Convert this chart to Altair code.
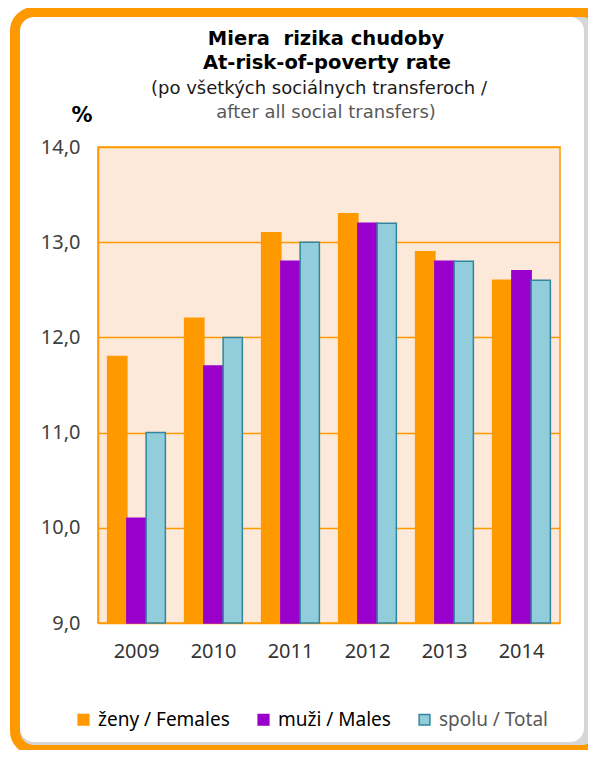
import altair as alt
import pandas as pd

years = ["2009", "2010", "2011", "2012", "2013", "2014"]
series = ["ženy / Females", "muži / Males", "spolu / Total"]
females = [11.8, 12.2, 13.1, 13.3, 12.9, 12.6]
males = [10.1, 11.7, 12.8, 13.2, 12.8, 12.7]
total = [11.0, 12.0, 13.0, 13.2, 12.8, 12.6]
y_ticks = [9, 10, 11, 12, 13, 14]

fill_colors = ["#FF9900", "#9900CC", "#92CDDC"]
stroke_colors = ["#FF9900", "#9900CC", "#31859C"]

rows = []
for i, yr in enumerate(years):
    for s, vals in zip(series, [females, males, total]):
        rows.append({"year": yr, "series": s, "value": vals[i]})
df = pd.DataFrame(rows)

W, H = 462, 476
PL, PT = 90, 139
SVG_W, SVG_H = 580, 742
FONT = "Noto Sans"
TFONT = "DejaVu Sans"
ORANGE = "#FF9900"

legend = alt.Legend(
    title=None, orient="none", direction="horizontal",
    legendX=-24, legendY=563,
    symbolType="square", symbolSize=115, symbolStrokeWidth=1.5,
    labelFont=FONT, labelFontSize=19,
    labelColor={"expr": "datum.label == 'spolu / Total' ? '#595959' : '#000000'"},
    labelOffset=5, columnPadding=24, symbolOpacity=1, labelLimit=300,
)

bars = alt.Chart(df).mark_bar(strokeWidth=1.5, opacity=1).encode(
    x=alt.X("year:N", sort=years, title=None,
            scale=alt.Scale(paddingInner=0.25, paddingOuter=0.125),
            axis=alt.Axis(labelAngle=0, ticks=False, domain=False, grid=False,
                          labelPadding=18, labelFont=FONT, labelFontSize=20,
                          labelColor="#333333")),
    xOffset=alt.XOffset("series:N", sort=series,
                        scale=alt.Scale(paddingInner=0, paddingOuter=0)),
    y=alt.Y("value:Q", title=None,
            scale=alt.Scale(domain=[y_ticks[0], y_ticks[-1]], zero=False, nice=False),
            axis=alt.Axis(values=y_ticks, ticks=False, domain=True,
                          domainColor=ORANGE, domainWidth=1.5,
                          grid=True, gridColor=ORANGE, gridWidth=1.5,
                          labelPadding=18, labelFont=FONT, labelFontSize=20,
                          labelColor="#404040",
                          labelExpr="replace(format(datum.value, '.1f'), '.', ',')")),
    y2=alt.datum(y_ticks[0]),
    fill=alt.Fill("series:N", sort=series,
                  scale=alt.Scale(domain=series, range=fill_colors), legend=legend),
    stroke=alt.Stroke("series:N", sort=series,
                      scale=alt.Scale(domain=series, range=stroke_colors), legend=legend),
)

one = alt.Data(values=[{"k": 1}])

# soft inner shadow on the right and bottom, then the rounded orange frame
shadow = alt.Chart(one).mark_rect(
    fill="transparent", stroke="#D6D6D6", strokeWidth=10, cornerRadius=19, clip=False
).encode(x=alt.value(-83), x2=alt.value(491), y=alt.value(-135), y2=alt.value(600))

frame = alt.Chart(one).mark_rect(
    fill="transparent", stroke=ORANGE, strokeWidth=10, cornerRadius=19, clip=False
).encode(x=alt.value(-83), x2=alt.value(503), y=alt.value(-135), y2=alt.value(603))


def label(txt, x, y, size, weight="normal", color="#000000", font=TFONT):
    return alt.Chart(one).mark_text(
        font=font, fontSize=size, fontWeight=weight, color=color,
        align="center", baseline="alphabetic", clip=False
    ).encode(x=alt.value(x), y=alt.value(y), text=alt.value(txt))


t1 = label("Miera\u00a0 rizika chudoby", 228, -102, 19.5, "bold")
t2 = label("At-risk-of-poverty rate", 229, -78, 19.5, "bold")
t3 = label("(po všetkých sociálnych transferoch /", 221, -53, 18, color="#1A1A1A")
t4 = label("after all social transfers)", 228, -29, 18, color="#595959")
pct = label("%", -16, -25, 21, "bold")

chart = alt.layer(shadow, frame, bars, t1, t2, t3, t4, pct).properties(
    width=W, height=H,
    autosize=alt.AutoSizeParams(type="none"),
    padding={"left": PL, "top": PT, "right": SVG_W - PL - W, "bottom": SVG_H - PT - H},
    background="white",
).configure_view(
    fill="#FDE9D9", stroke=ORANGE, strokeWidth=1.5
)

chart.save("out.html", embed_options={"renderer": "svg", "actions": False})
